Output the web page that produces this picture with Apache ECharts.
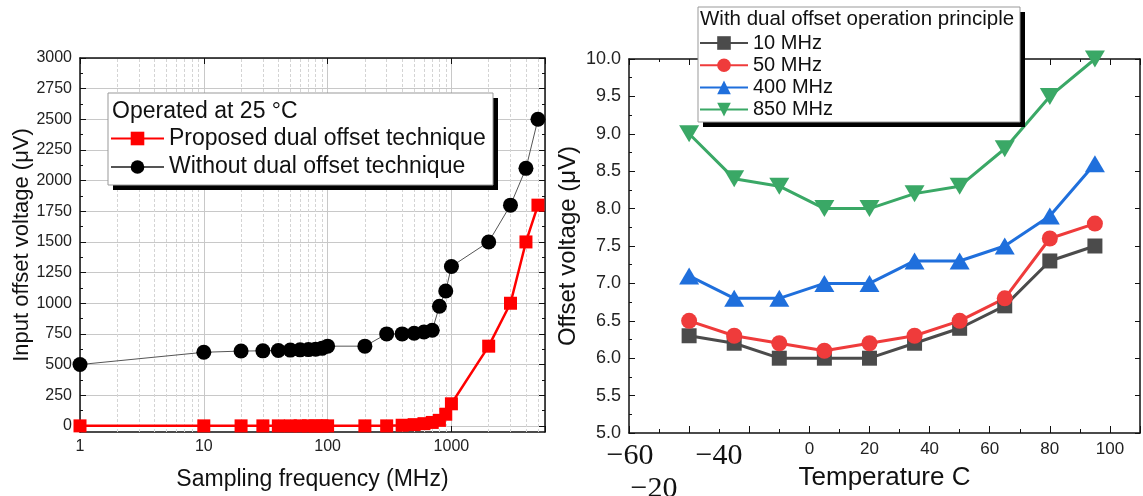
<!DOCTYPE html>
<html>
<head>
<meta charset="utf-8">
<script src="https://cdn.jsdelivr.net/npm/echarts@6/dist/echarts.min.js"></script>
<style>
  html, body { margin: 0; padding: 0; background: #fff; }
  #chart { width: 1143px; height: 496px; }
</style>
</head>
<body>
<div id="chart"></div>
<script>
// left panel: offset vs sampling frequency (log x)
const freqMHz = [1, 10, 20, 30, 40, 50, 60, 70, 80, 90, 100, 200, 300, 400, 500, 600, 700, 800, 900, 1000, 2000, 3000, 4000, 5000];
const proposedUv = [0, 0, 0, 0, 0, 0, 0, 0, 0, 0, 0, 0, 0, 5, 10, 18, 28, 45, 95, 180, 650, 1000, 1500, 1800];
const withoutUv = [500, 600, 610, 612, 615, 618, 620, 622, 625, 632, 650, 650, 750, 750, 755, 765, 780, 975, 1100, 1300, 1500, 1800, 2100, 2500];
const freqLabelTicks = [1, 10, 100, 1000];
const freqMinorLines = [2, 3, 4, 5, 6, 7, 8, 9, 20, 30, 40, 50, 60, 70, 80, 90, 200, 300, 400, 500, 600, 700, 800, 900, 2000, 3000, 4000, 5000];
const offsetTicks = [0, 250, 500, 750, 1000, 1250, 1500, 1750, 2000, 2250, 2500, 2750, 3000];

// right panel: offset vs temperature
const tempC = [-40, -25, -10, 5, 20, 35, 50, 65, 80, 95];
const off10 = [6.3, 6.2, 6.0, 6.0, 6.0, 6.2, 6.4, 6.7, 7.3, 7.5];
const off50 = [6.5, 6.3, 6.2, 6.1, 6.2, 6.3, 6.5, 6.8, 7.6, 7.8];
const off400 = [7.1, 6.8, 6.8, 7.0, 7.0, 7.3, 7.3, 7.5, 7.9, 8.6];
const off850 = [9.0, 8.4, 8.3, 8.0, 8.0, 8.2, 8.3, 8.8, 9.5, 10.0];
const tempNegLabels = ['\u221260', '\u221240', '\u221220'];

const FONT = '"Liberation Sans", Arial, sans-serif';
const SERIF = '"Liberation Serif", "DejaVu Serif", serif';

function pairs(xs, ys) {
    return xs.map((x, i) => [x, ys[i]]);
}

const chart = echarts.init(document.getElementById('chart'));

const axisLine = { show: true, onZero: false, lineStyle: { color: '#111', width: 1.5 } };

chart.setOption({
    animation: false,
    textStyle: { fontFamily: FONT },
    grid: [
        { left: 80, top: 58, width: 465, height: 375 },
        { left: 629, top: 59, width: 516, height: 377 }
    ],
    xAxis: [
        {
            type: 'log', gridIndex: 0, min: 1, max: 5700, logBase: 10,
            name: 'Sampling frequency (MHz)', nameLocation: 'middle', nameGap: 36,
            nameTextStyle: { fontSize: 23, color: '#111', fontFamily: FONT },
            axisLine,
            axisTick: { inside: true, length: 6, lineStyle: { color: '#111' } },
            axisLabel: {
                fontSize: 16, color: '#222', margin: 7,
                formatter: v => freqLabelTicks.indexOf(Math.round(v)) >= 0 ? String(Math.round(v)) : ''
            },
            splitLine: { show: true, lineStyle: { color: '#c8c8c8', width: 1 } }
        },
        {
            type: 'log', gridIndex: 0, min: 1, max: 5700, position: 'top',
            axisLine,
            axisTick: { inside: true, length: 6, lineStyle: { color: '#111' } },
            axisLabel: { show: false },
            splitLine: { show: false }
        },
        {
            type: 'value', gridIndex: 1, min: -60, max: 110, interval: 20,
            name: 'Temperature C', nameLocation: 'middle', nameGap: 32,
            nameTextStyle: { fontSize: 26, color: '#111', fontFamily: FONT },
            axisLine,
            axisTick: { inside: true, length: 7, lineStyle: { color: '#111' } },
            minorTick: { show: true, splitNumber: 2, length: 4, lineStyle: { color: '#111' } },
            axisLabel: {
                fontSize: 17, color: '#222', margin: 8,
                formatter: v => (v >= 0 && v <= 100) ? String(v) : ''
            },
            splitLine: { show: false }
        },
        {
            type: 'value', gridIndex: 1, min: -60, max: 110, interval: 20, position: 'top',
            axisLine,
            axisTick: { inside: true, length: 6, lineStyle: { color: '#111' } },
            minorTick: { show: true, splitNumber: 2, length: 3, lineStyle: { color: '#111' } },
            axisLabel: { show: false },
            splitLine: { show: false }
        }
    ],
    yAxis: [
        {
            type: 'value', gridIndex: 0, min: -50, max: 3000,
            name: 'Input offset voltage (\u03bcV)', nameLocation: 'middle', nameGap: 47,
            nameTextStyle: { fontSize: 22, color: '#111', fontFamily: FONT },
            axisLine,
            axisTick: { inside: true, length: 6, customValues: offsetTicks, lineStyle: { color: '#111' } },
            minorTick: { show: true, splitNumber: 4, length: 3, lineStyle: { color: '#111' } },
            axisLabel: { fontSize: 16, color: '#222', margin: 8, customValues: offsetTicks, formatter: v => String(v) },
            splitLine: { show: true, lineStyle: { color: '#c8c8c8', width: 1 } }
        },
        {
            type: 'value', gridIndex: 0, min: -50, max: 3000, position: 'right',
            axisLine,
            axisTick: { inside: true, length: 6, customValues: offsetTicks, lineStyle: { color: '#111' } },
            minorTick: { show: true, splitNumber: 4, length: 3, lineStyle: { color: '#111' } },
            axisLabel: { show: false },
            splitLine: { show: false }
        },
        {
            type: 'value', gridIndex: 1, min: 5, max: 10, interval: 0.5,
            name: 'Offset voltage (\u03bcV)', nameLocation: 'middle', nameGap: 49,
            nameTextStyle: { fontSize: 24, color: '#111', fontFamily: FONT },
            axisLine,
            axisTick: { inside: true, length: 6, lineStyle: { color: '#111' } },
            minorTick: { show: true, splitNumber: 2, length: 3, lineStyle: { color: '#111' } },
            axisLabel: { fontSize: 18, color: '#222', margin: 8, formatter: v => v.toFixed(1) },
            splitLine: { show: false }
        },
        {
            type: 'value', gridIndex: 1, min: 5, max: 10, interval: 0.5, position: 'right',
            axisLine,
            axisTick: { inside: true, length: 5, lineStyle: { color: '#111' } },
            axisLabel: { show: false },
            splitLine: { show: false }
        }
    ],
    legend: [
        {
            data: ['Proposed dual offset technique', 'Without dual offset technique'],
            orient: 'vertical', left: 110, top: 127, padding: 0,
            itemWidth: 53, itemHeight: 17, itemGap: 5.5, z: 8,
            textStyle: { fontSize: 23, color: '#111', fontFamily: FONT }
        },
        {
            data: ['10 MHz', '50 MHz', '400 MHz', '850 MHz'],
            orient: 'vertical', left: 699, top: 33, padding: 0,
            itemWidth: 48, itemHeight: 17, itemGap: 2.2, z: 8,
            textStyle: { fontSize: 20, color: '#111', fontFamily: FONT }
        }
    ],
    graphic: [
        { type: 'rect', z: 5, shape: { x: 113, y: 98, width: 385, height: 92 }, style: { fill: '#000' } },
        { type: 'rect', z: 6, shape: { x: 108, y: 93, width: 385, height: 92 }, style: { fill: '#fff', stroke: '#999', lineWidth: 1 } },
        { type: 'text', z: 7, x: 112, y: 112, style: { text: 'Operated at 25 \u00b0C', fontSize: 23, fontFamily: FONT, fill: '#111', verticalAlign: 'middle' } },
        { type: 'rect', z: 5, shape: { x: 703, y: 12, width: 322, height: 115 }, style: { fill: '#000' } },
        { type: 'rect', z: 6, shape: { x: 698, y: 7, width: 322, height: 115 }, style: { fill: '#fff', stroke: '#999', lineWidth: 1 } },
        { type: 'text', z: 7, x: 700, y: 19, style: { text: 'With dual offset operation principle', fontSize: 20.5, fontFamily: FONT, fill: '#111', verticalAlign: 'middle' } },
        { type: 'text', z: 7, x: 630, y: 456, style: { text: tempNegLabels[0], fontSize: 30, fontFamily: SERIF, fill: '#111', align: 'center', verticalAlign: 'middle' } },
        { type: 'text', z: 7, x: 719, y: 456, style: { text: tempNegLabels[1], fontSize: 30, fontFamily: SERIF, fill: '#111', align: 'center', verticalAlign: 'middle' } },
        { type: 'text', z: 7, x: 654, y: 489, style: { text: tempNegLabels[2], fontSize: 30, fontFamily: SERIF, fill: '#111', align: 'center', verticalAlign: 'middle' } }
    ],
    series: [
        {
            // dashed minor grid for the log axis
            type: 'line', xAxisIndex: 0, yAxisIndex: 0, data: [], z: 1, silent: true,
            markLine: {
                silent: true, symbol: 'none', z: 1, label: { show: false },
                lineStyle: { color: '#d4d4d4', type: [3, 2], width: 1 },
                data: freqMinorLines.map(f => ({ xAxis: f }))
            }
        },
        {
            name: 'Without dual offset technique', type: 'line', xAxisIndex: 0, yAxisIndex: 0,
            data: pairs(freqMHz, withoutUv), clip: false,
            symbol: 'circle', symbolSize: 15,
            itemStyle: { color: '#000' },
            lineStyle: { color: '#555', width: 1 }
        },
        {
            name: 'Proposed dual offset technique', type: 'line', xAxisIndex: 0, yAxisIndex: 0,
            data: pairs(freqMHz, proposedUv), clip: false,
            symbol: 'rect', symbolSize: 13,
            itemStyle: { color: '#ff0000' },
            lineStyle: { color: '#ff0000', width: 2.5 }
        },
        {
            name: '10 MHz', type: 'line', xAxisIndex: 2, yAxisIndex: 2,
            data: pairs(tempC, off10), clip: false,
            symbol: 'rect', symbolSize: 15,
            itemStyle: { color: '#4b4b4b' },
            lineStyle: { color: '#4b4b4b', width: 3 }
        },
        {
            name: '50 MHz', type: 'line', xAxisIndex: 2, yAxisIndex: 2,
            data: pairs(tempC, off50), clip: false,
            symbol: 'circle', symbolSize: 16,
            itemStyle: { color: '#ef3b3b' },
            lineStyle: { color: '#ef3b3b', width: 3 }
        },
        {
            name: '400 MHz', type: 'line', xAxisIndex: 2, yAxisIndex: 2,
            data: pairs(tempC, off400), clip: false,
            symbol: 'triangle', symbolSize: [20, 17],
            itemStyle: { color: '#1f6fdc' },
            lineStyle: { color: '#1f6fdc', width: 3 }
        },
        {
            name: '850 MHz', type: 'line', xAxisIndex: 2, yAxisIndex: 2,
            data: pairs(tempC, off850), clip: false,
            symbol: 'triangle', symbolSize: [20, 17], symbolRotate: 180,
            itemStyle: { color: '#3aa866' },
            lineStyle: { color: '#3aa866', width: 3 }
        }
    ]
});
</script>
</body>
</html>
